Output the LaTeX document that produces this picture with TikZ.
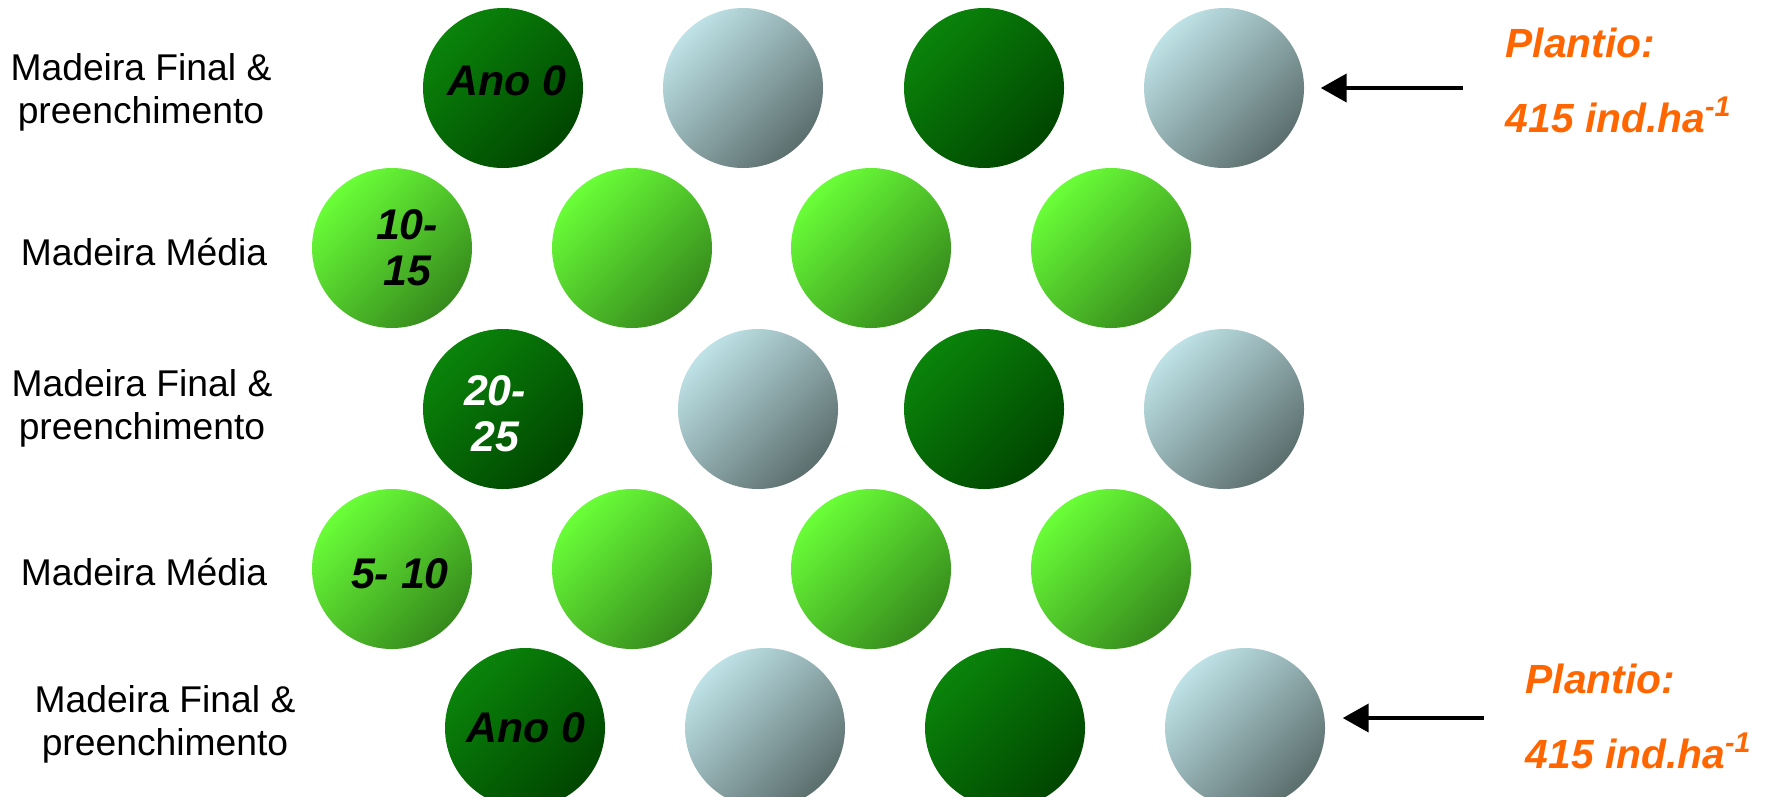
\documentclass[tikz,border=0pt]{standalone}
\usepackage{fontspec}
\setmainfont{Liberation Sans}
\usetikzlibrary{arrows.meta}
\definecolor{dgruen}{HTML}{0A840A}
\definecolor{dgruend}{HTML}{004600}
\definecolor{hgruen}{HTML}{6AFF38}
\definecolor{hgruend}{HTML}{368A1C}
\definecolor{blgrau}{HTML}{BEE2E6}
\definecolor{blgraud}{HTML}{5C6E6E}
\definecolor{orang}{HTML}{FF6600}
\tikzset{
  baum/.style={circle,minimum size=16mm,inner sep=0pt},
  final/.style={baum,top color=dgruen,bottom color=dgruend,shading angle=45},
  media/.style={baum,top color=hgruen,bottom color=hgruend,shading angle=45},
  fuell/.style={baum,top color=blgrau,bottom color=blgraud,shading angle=45},
  zeile/.style={align=center,inner sep=0pt,font=\fontsize{10.6}{12.2}\selectfont},
  jahr/.style={align=center,inner sep=0pt,font=\fontsize{12.2}{13}\selectfont\bfseries\itshape},
  plant/.style={anchor=west,inner sep=0pt,orang,font=\fontsize{11.6}{13}\selectfont\bfseries\itshape},
  pfeil/.style={-{Triangle[length=2.6mm,width=2.8mm]},black,line width=1.2pt},
}
\begin{document}
\begin{tikzpicture}
  \useasboundingbox (0,0) rectangle (17.65,-7.96);
  % Reihe 1
  \node[final] (c11) at (5.03,-0.88) {};
  \node[fuell] (c12) at (7.43,-0.88) {};
  \node[final] (c13) at (9.84,-0.88) {};
  \node[fuell] (c14) at (12.24,-0.88) {};
  % Reihe 2
  \node[media] (c21) at (3.92,-2.48) {};
  \node[media] (c22) at (6.32,-2.48) {};
  \node[media] (c23) at (8.71,-2.48) {};
  \node[media] (c24) at (11.11,-2.48) {};
  % Reihe 3
  \node[final] (c31) at (5.03,-4.09) {};
  \node[fuell] (c32) at (7.58,-4.09) {};
  \node[final] (c33) at (9.84,-4.09) {};
  \node[fuell] (c34) at (12.24,-4.09) {};
  % Reihe 4
  \node[media] (c41) at (3.92,-5.69) {};
  \node[media] (c42) at (6.32,-5.69) {};
  \node[media] (c43) at (8.71,-5.69) {};
  \node[media] (c44) at (11.11,-5.69) {};
  % Reihe 5
  \node[final] (c51) at (5.25,-7.28) {};
  \node[fuell] (c52) at (7.65,-7.28) {};
  \node[final] (c53) at (10.05,-7.28) {};
  \node[fuell] (c54) at (12.45,-7.28) {};
  % Jahre
  \node[jahr] (j1) at (5.07,-0.81) {Ano 0};
  \node[jahr] (j2) at (4.07,-2.48) {10-\\15};
  \node[jahr,white] (j3) at (4.95,-4.14) {20-\\25};
  \node[jahr] (j4) at (4.00,-5.74) {5- 10};
  \node[jahr] (j5) at (5.26,-7.28) {Ano 0};
  % Zeilen links
  \node[zeile] (z1) at (1.41,-0.92) {Madeira Final \&\\preenchimento};
  \node[zeile] (z2) at (1.44,-2.52) {Madeira Média};
  \node[zeile] (z3) at (1.42,-4.08) {Madeira Final \&\\preenchimento};
  \node[zeile] (z4) at (1.44,-5.72) {Madeira Média};
  \node[zeile] (z5) at (1.65,-7.24) {Madeira Final \&\\preenchimento};
  % Plantio
  \node[plant] (p1) at (15.05,-0.43) {Plantio:};
  \node[plant] (d1) at (15.05,-1.15) {415 ind.ha\textsuperscript{-1}};
  \node[plant] (p5) at (15.25,-6.79) {Plantio:};
  \node[plant] (d5) at (15.25,-7.51) {415 ind.ha\textsuperscript{-1}};
  \coordinate (a1) at (14.63,-0.88);
  \coordinate (a5) at (14.84,-7.18);
  \draw[pfeil,shorten >=1.6mm] (a1) -- (a1 -| c14.east);
  \draw[pfeil,shorten >=1.7mm] (a5) -- (a5 -| c54.east);
\end{tikzpicture}
\end{document}
